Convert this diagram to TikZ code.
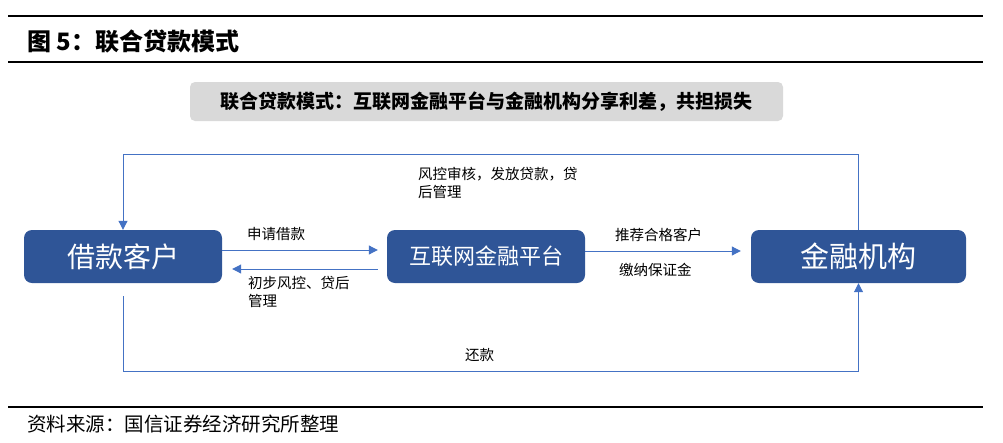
\documentclass[tikz,border=0pt]{standalone}
\usepackage{fontspec}
\setmainfont{Noto Sans CJK SC}
\usetikzlibrary{positioning, arrows.meta}

\definecolor{boxblue}{HTML}{2F5597}
\definecolor{lineblue}{HTML}{4472C4}
\definecolor{bannergray}{HTML}{D9D9D9}

\tikzset{
  party/.style={rectangle, rounded corners=8pt, fill=boxblue, text=white,
    minimum height=53pt, inner sep=0pt},
  flow/.style={draw=lineblue, line width=1pt, -{Triangle[length=9pt, width=9pt]}},
  tag/.style={font=\fontsize{14.5}{18}\selectfont, anchor=north west, inner sep=0pt,
    align=left},
}

\begin{document}
\begin{tikzpicture}[x=1pt, y=-1pt]
   \useasboundingbox (0,0) rectangle (1003,442);

   % Title and rules
   \draw[line width=1.3pt] (8,16) -- (983,16);
   \draw[line width=1.3pt] (8,62) -- (983,62);
   \node[anchor=west, inner sep=0pt, font=\bfseries\fontsize{24}{28}\selectfont] (title) at (27,41) {图 5：联合贷款模式};

   % Banner
   \node[rectangle, rounded corners=5pt, fill=bannergray, minimum width=593pt, minimum height=39pt,
     font=\bfseries\fontsize{19}{22}\selectfont] (banner) at (486.5,101.5)
     {联合贷款模式：互联网金融平台与金融机构分享利差，共担损失};

   % The three parties
   \node[party, minimum width=198pt, font=\fontsize{28}{32}\selectfont] (jk) at (123,256.5) {借款客户};
   \node[party, minimum width=198pt, font=\fontsize{22}{26}\selectfont] (ptf) at (486,256.5) {互联网金融平台};
   \node[party, minimum width=215pt, font=\fontsize{29}{33}\selectfont] (jr) at (858.5,256.5) {金融机构};

   % Corner points of the outer loops
   \coordinate (tl) at (123,154);
   \coordinate (tr) at (858.5,154);
   \coordinate (hk) at (123,296);
   \coordinate (bl) at (123,371);
   \coordinate (br) at (858.5,371);

   % Transitions
   \draw[flow] (jr.north) -- (tr) -- (tl) -- (jk.north);
   \draw[flow] (hk) -- (bl) -- (br) -- (jr.south);
   \draw[flow, shorten >=9pt] ([yshift=6.5pt]jk.east) -- ([yshift=6.5pt]ptf.west);
   \draw[flow, shorten <=9pt, shorten >=10pt] ([yshift=-12.5pt]ptf.west) -- ([yshift=-12.5pt]jk.east);
   \draw[flow, shorten >=10pt] ([yshift=5.5pt]ptf.east) -- ([yshift=5.5pt]jr.west);

   % Labels
   \node[tag] (l1) at (418,167) {风控审核，发放贷款，贷\\后管理};
   \node[tag] (l2) at (247,227) {申请借款};
   \node[tag] (l3) at (248,276) {初步风控、贷后\\管理};
   \node[tag] (l4) at (615,228) {推荐合格客户};
   \node[tag] (l5) at (619,263) {缴纳保证金};
   \node[tag] (l6) at (465,348) {还款};

   % Source
   \draw[line width=1.3pt] (8,407) -- (983,407);
   \node[anchor=west, inner sep=0pt, font=\fontsize{19.5}{22}\selectfont] (src) at (27,424) {资料来源：国信证券经济研究所整理};
\end{tikzpicture}
\end{document}
